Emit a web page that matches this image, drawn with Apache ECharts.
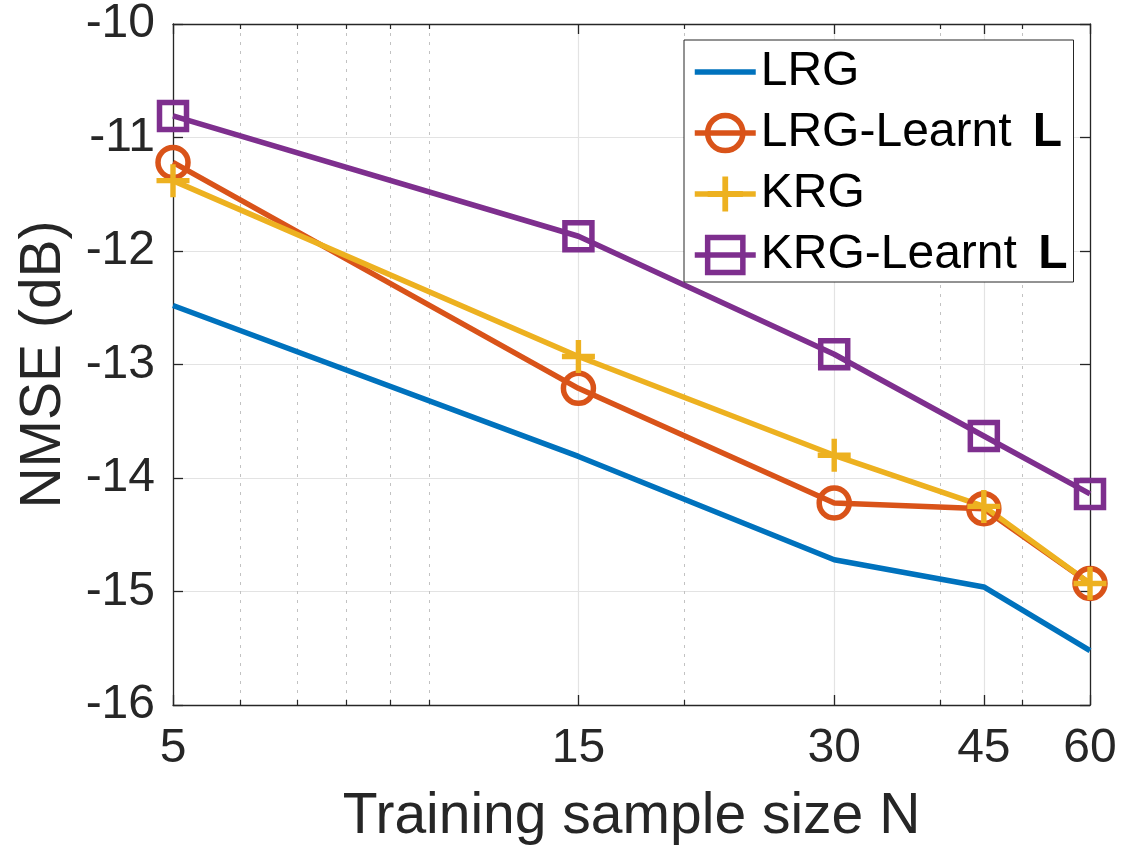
<!DOCTYPE html>
<html>
<head>
<meta charset="utf-8">
<script src="https://cdn.jsdelivr.net/npm/echarts@6/dist/echarts.min.js"></script>
<style>
html,body{margin:0;padding:0;background:#fff;}
#c{width:1131px;height:857px;}
</style>
</head>
<body>
<div id="c"></div>
<script>
// ---- data ----
const sampleSizes = [5, 15, 30, 45, 60];
const majorTicks = [5, 15, 30, 45, 60];
const minorTicks = [6, 7, 8, 9, 10, 20, 40, 50];
const seriesNames = ['LRG', 'LRG-Learnt L', 'KRG', 'KRG-Learnt L'];
const lrg        = [-12.48, -13.81, -14.72, -14.96, -15.52];
const lrgLearnt  = [-11.22, -13.21, -14.22, -14.27, -14.93];
const krg        = [-11.38, -12.93, -13.80, -14.25, -14.93];
const krgLearnt  = [-10.81, -11.87, -12.91, -13.63, -14.14];

const colors = ['#0072BD', '#D95319', '#EDB120', '#7E2F8E'];
const FONT = 'Liberation Sans, Arial, Helvetica, sans-serif';
const AX = '#262626';
const LW = 5.5;

function pairs(vals){ return sampleSizes.map((x,i)=>[x, vals[i]]); }

const plusPath = 'path://M14,0 h5.5 v14 h14 v5.5 h-14 v14 h-5.5 v-14 h-14 v-5.5 h14 z';

function baseX(extra){
  return Object.assign({
    type:'log', logBase:10, min:5, max:60,
    axisLine:{show:false},
    axisTick:{show:false},
    axisLabel:{show:false},
    splitLine:{show:false},
    minorTick:{show:false},
    minorSplitLine:{show:false}
  }, extra);
}

const chart = echarts.init(document.getElementById('c'), null, {renderer:'canvas'});
const option = {
  backgroundColor:'#fff',
  animation:false,
  grid:{left:173, right:41, top:20, bottom:152, containLabel:false},
  legend:{
    orient:'vertical', left:684, top:40,
    backgroundColor:'#fff', borderColor:AX, borderWidth:1,
    padding:[8,6,3,8],
    itemWidth:61, itemHeight:44, itemGap:13,
    lineStyle:{width:LW},
    itemStyle:{borderWidth:LW},
    data:[
      {name:seriesNames[0], itemStyle:{color:'rgba(0,0,0,0)', borderWidth:0, borderColor:'rgba(0,0,0,0)'}},
      seriesNames[1],
      {name:seriesNames[2], itemStyle:{borderWidth:0}},
      seriesNames[3]
    ],
    formatter:function(name){ return name.replace(/ L$/, ' {b|L}'); },
    textStyle:{fontFamily:FONT, fontSize:48, lineHeight:44, color:'#000',
      rich:{b:{fontFamily:FONT, fontSize:48, lineHeight:44, fontWeight:'bold', color:'#000', padding:[0,0,0,8]}}}
  },
  xAxis:[
    baseX({
      position:'bottom',
      name:'Training sample size N', nameLocation:'middle', nameGap:84,
      nameTextStyle:{fontFamily:FONT, fontSize:57, color:AX},
      axisLine:{show:true, lineStyle:{color:AX, width:1.3}},
      axisTick:{show:true, inside:true, length:10, customValues:majorTicks, lineStyle:{color:AX, width:1.3}},
      axisLabel:{show:true, customValues:majorTicks, margin:20, fontFamily:FONT, fontSize:48, color:AX,
        formatter:function(v){return String(Math.round(v));}},
      splitLine:{show:true, lineStyle:{color:'#e3e3e3', width:1.2}}
    }),
    baseX({
      position:'bottom',
      axisTick:{show:true, inside:true, length:5, customValues:minorTicks, lineStyle:{color:AX, width:1.2}},
      splitLine:{show:true, lineStyle:{color:'#c2c2c2', width:1, type:[3,6]}}
    }),
    baseX({
      position:'top',
      axisLine:{show:true, lineStyle:{color:AX, width:1.3}},
      axisTick:{show:true, inside:true, length:10, customValues:majorTicks, lineStyle:{color:AX, width:1.3}}
    }),
    baseX({
      position:'top',
      axisTick:{show:true, inside:true, length:5, customValues:minorTicks, lineStyle:{color:AX, width:1.2}}
    })
  ],
  yAxis:[
    {
      type:'value', min:-16, max:-10, interval:1, position:'left',
      name:'NMSE (dB)', nameLocation:'middle', nameGap:100,
      nameTextStyle:{fontFamily:FONT, fontSize:57, color:AX},
      axisLine:{show:true, lineStyle:{color:AX, width:1.3}},
      axisTick:{show:true, inside:true, length:10, lineStyle:{color:AX, width:1.3}},
      axisLabel:{margin:18, fontFamily:FONT, fontSize:48, color:AX},
      splitLine:{show:true, lineStyle:{color:'#e3e3e3', width:1.2}}
    },
    {
      type:'value', min:-16, max:-10, interval:1, position:'right',
      axisLine:{show:true, lineStyle:{color:AX, width:1.3}},
      axisTick:{show:true, inside:true, length:10, lineStyle:{color:AX, width:1.3}},
      axisLabel:{show:false},
      splitLine:{show:false}
    }
  ],
  series:[
    {
      name:seriesNames[0], type:'line', xAxisIndex:0, yAxisIndex:0,
      data:pairs(lrg), symbol:'none',
      lineStyle:{color:colors[0], width:LW},
      itemStyle:{color:colors[0]}
    },
    {
      name:seriesNames[1], type:'line', xAxisIndex:0, yAxisIndex:0,
      data:pairs(lrgLearnt), symbol:'circle', symbolSize:30,
      lineStyle:{color:colors[1], width:LW},
      itemStyle:{color:'rgba(255,255,255,0)', borderColor:colors[1], borderWidth:LW}
    },
    {
      name:seriesNames[2], type:'line', xAxisIndex:0, yAxisIndex:0,
      data:pairs(krg), symbol:plusPath, symbolSize:33,
      lineStyle:{color:colors[2], width:LW},
      itemStyle:{color:colors[2], borderColor:colors[2], borderWidth:0}
    },
    {
      name:seriesNames[3], type:'line', xAxisIndex:0, yAxisIndex:0,
      data:pairs(krgLearnt), symbol:'rect', symbolSize:27,
      lineStyle:{color:colors[3], width:LW},
      itemStyle:{color:'rgba(255,255,255,0)', borderColor:colors[3], borderWidth:LW}
    }
  ]
};
chart.setOption(option);
</script>
</body>
</html>
